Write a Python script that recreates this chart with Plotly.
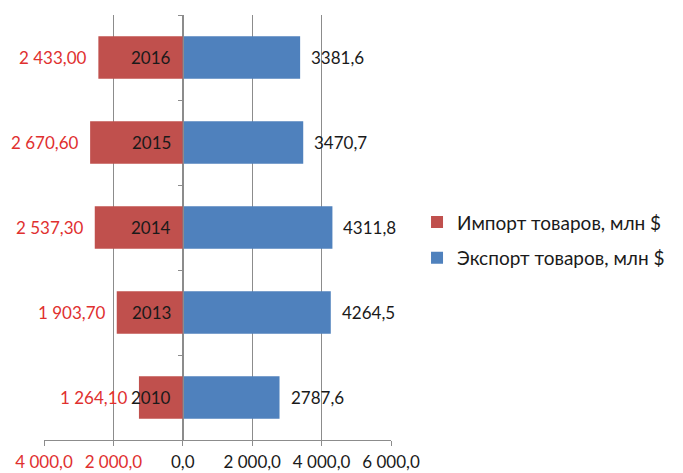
import plotly.graph_objects as go

years = ["2010", "2013", "2014", "2015", "2016"]
imports = [1264.10, 1903.70, 2537.30, 2670.60, 2433.00]
exports = [2787.6, 4264.5, 4311.8, 3470.7, 3381.6]
tick_vals = [-4000, -2000, 0, 2000, 4000, 6000]
tick_text = ["4 000,0", "2 000,0", "0,0", "2 000,0", "4 000,0", "6 000,0"]

RED = "#C0504D"
BLUE = "#4F81BD"
RED_TXT = "#E0302F"
FONT = "Lato"
FS = 17

def fmt_imp(v):
    s = f"{v:,.2f}"
    return s.replace(",", " ").replace(".", ",")

def fmt_exp(v):
    return f"{v:.1f}".replace(".", ",")

fig = go.Figure()
fig.add_trace(go.Bar(
    y=years, x=[-v for v in imports], orientation="h", legendgroup="imp",
    name="Импорт товаров, млн $", marker=dict(color=RED, line=dict(width=0)),
))
fig.add_trace(go.Bar(
    y=years, x=exports, orientation="h", legendgroup="exp",
    name="Экспорт товаров, млн $", marker=dict(color=BLUE, line=dict(width=0)),
))

annotations = []
for i, (y, imp, exp) in enumerate(zip(years, imports, exports)):
    annotations.append(dict(x=-imp, y=i, text=fmt_imp(imp), showarrow=False,
                            xanchor="right", xshift=-9,
                            font=dict(family=FONT, size=FS, color=RED_TXT)))
    annotations.append(dict(x=exp, y=i, text=fmt_exp(exp), showarrow=False,
                            xanchor="left", xshift=9,
                            font=dict(family=FONT, size=FS, color="#1a1a1a")))
    annotations.append(dict(x=0, y=i, text=y, showarrow=False,
                            xanchor="right", xshift=-10,
                            font=dict(family=FONT, size=FS, color="#1a1a1a")))

colored_ticks = [
    f"<span style='color:{RED_TXT}'>{t}</span>" if v < 0 else t
    for v, t in zip(tick_vals, tick_text)
]

fig.update_layout(
    width=683, height=473,
    margin=dict(l=44, r=292, t=15, b=33),
    paper_bgcolor="white", plot_bgcolor="white",
    barmode="relative", bargap=0.5,
    font=dict(family=FONT, size=FS, color="#1a1a1a"),
    annotations=annotations,
    showlegend=True,
    legend=dict(x=1.075, y=0.47, xanchor="left", yanchor="middle",
                font=dict(family=FONT, size=19, color="#1a1a1a"),
                traceorder="grouped", itemsizing="constant",
                tracegroupgap=8),
    xaxis=dict(
        range=[-4000, 6000], tickvals=tick_vals, ticktext=colored_ticks,
        showgrid=True, gridcolor="#8c8c8c", gridwidth=1,
        zeroline=False, showline=True, linecolor="#8c8c8c", linewidth=1,
        ticks="outside", ticklen=5, tickcolor="#8c8c8c",
        tickfont=dict(family=FONT, size=FS, color="#1a1a1a"),
        ticklabelstandoff=2,
        fixedrange=True, automargin=False,
    ),
    yaxis=dict(
        type="category", categoryorder="array", categoryarray=years,
        range=[-0.5, len(years) - 0.5],
        showticklabels=False, showgrid=False, zeroline=False,
        showline=True, linecolor="#8c8c8c", linewidth=1,
        ticks="outside", ticklen=5, tickcolor="#8c8c8c",
        tickson="boundaries",
        anchor="free", position=0.4,
        fixedrange=True, automargin=False,
    ),
)

fig.write_html("out.html",
               config={"displayModeBar": False},
               post_script="document.body.style.margin='0';document.body.style.overflow='hidden';")
